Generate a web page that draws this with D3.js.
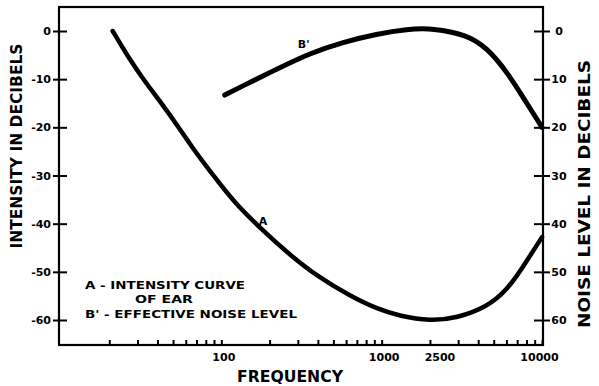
<!DOCTYPE html>
<html>
<head>
<meta charset="utf-8">
<script src="https://cdn.jsdelivr.net/npm/d3@7"></script>
<style>
  html, body { margin: 0; padding: 0; background: #fff; }
  svg { display: block; }
  text { font-family: "DejaVu Sans", sans-serif; font-weight: bold; fill: #000; }
</style>
</head>
<body>
<svg id="chart" width="599" height="386"></svg>
<script>
// ---- data ----
const freqA = [21, 26, 33, 43, 54, 68, 88, 118, 182, 268, 395, 634, 935, 1300, 2000, 2950, 4540, 6050, 7600, 10000];
const intensityA = [0, -5.2, -10.3, -15.3, -19.9, -24.9, -29.7, -35.3, -41.5, -46.5, -50.9, -55.0, -57.7, -59.2, -60.2, -59.6, -57.3, -53.8, -49.0, -42.8];

const freqB = [105, 136, 222, 357, 574, 935, 1440, 2090, 3400, 4540, 6050, 7600, 10000];
const noiseB = [13.3, 11.4, 7.9, 4.6, 2.3, 0.6, -0.4, -0.6, 0.8, 3.5, 8.5, 13.7, 20];

const leftTicks = [0, -10, -20, -30, -40, -50, -60];
const rightTicks = [0, 10, 20, 30, 40, 50, 60];
const xLabelTicks = [100, 1000, 2500, 10000];
const xMinorTicks = [20, 30, 40, 50, 60, 70, 80, 90, 100,
                     200, 300, 400, 500, 600, 700, 800, 900, 1000,
                     2000, 3000, 4000, 5000, 6000, 7000, 8000, 9000, 10000];

const legendLines = ["A - INTENSITY  CURVE", "OF  EAR", "B' - EFFECTIVE  NOISE  LEVEL"];

// ---- layout ----
const frame = { left: 59, right: 543, top: 7, bottom: 345 };
const svg = d3.select("#chart");

const x = d3.scaleLog().domain([10, 10000]).range([61, 542]);
const yL = d3.scaleLinear().domain([0, -60]).range([31, 320]);
const yR = d3.scaleLinear().domain([0, 60]).range([31, 320]);

// frame
svg.append("rect")
  .attr("x", frame.left).attr("y", frame.top)
  .attr("width", frame.right - frame.left).attr("height", frame.bottom - frame.top)
  .attr("fill", "none").attr("stroke", "#000").attr("stroke-width", 2.2);

// left axis
const gL = svg.append("g").attr("transform", `translate(${frame.left},0)`)
  .call(d3.axisLeft(yL).tickValues(leftTicks).tickSize(6).tickPadding(2).tickFormat(d => String(d)));
gL.select(".domain").remove();
gL.selectAll("line").attr("x1", 8).attr("stroke-width", 2);
gL.selectAll("text").attr("font-size", 11).attr("font-family", "DejaVu Sans").attr("font-weight", "bold");

// right axis
const gR = svg.append("g").attr("transform", `translate(${frame.right},0)`)
  .call(d3.axisRight(yR).tickValues(rightTicks).tickSize(7).tickPadding(9).tickFormat(d => String(d)));
gR.select(".domain").remove();
gR.selectAll("line").attr("x1", -9).attr("stroke-width", 2);
gR.selectAll("text").attr("font-size", 11).attr("text-anchor", "middle")
  .attr("font-family", "DejaVu Sans").attr("font-weight", "bold");

// bottom minor ticks
const gB = svg.append("g").attr("transform", `translate(0,${frame.bottom})`)
  .call(d3.axisBottom(x).tickValues(xMinorTicks).tickSize(-5).tickFormat(""));
gB.select(".domain").remove();
gB.selectAll("line").attr("stroke-width", 2);

// bottom labels
const gBL = svg.append("g").attr("transform", `translate(0,${frame.bottom})`)
  .call(d3.axisBottom(x).tickValues(xLabelTicks).tickSize(0).tickPadding(8).tickFormat(d => String(d)));
gBL.select(".domain").remove();
gBL.selectAll("text").attr("font-size", 11).attr("font-family", "DejaVu Sans").attr("font-weight", "bold")
  .attr("dx", d => d === 2500 ? -6 : (d === 10000 ? -3 : 2));

// curves
const lineA = d3.line().x((d, i) => x(freqA[i])).y((d, i) => yL(intensityA[i])).curve(d3.curveBasis);
svg.append("path").attr("d", lineA(freqA))
  .attr("fill", "none").attr("stroke", "#000").attr("stroke-width", 4.5)
  .attr("stroke-linecap", "round").attr("stroke-linejoin", "round");

const lineB = d3.line().x((d, i) => x(freqB[i])).y((d, i) => yR(noiseB[i])).curve(d3.curveBasis);
svg.append("path").attr("d", lineB(freqB))
  .attr("fill", "none").attr("stroke", "#000").attr("stroke-width", 5)
  .attr("stroke-linecap", "round").attr("stroke-linejoin", "round");

// curve labels
svg.append("text").attr("x", x(182)).attr("y", yL(-40.3)).attr("font-size", 11).attr("text-anchor", "middle").text("A");
svg.append("text").attr("x", x(300)).attr("y", yR(3.5)).attr("font-size", 11).text("B'");

// legend
svg.append("text").attr("x", 85).attr("y", 289).attr("font-size", 11)
  .attr("textLength", 160).attr("lengthAdjust", "spacingAndGlyphs").text(legendLines[0]);
svg.append("text").attr("x", 135).attr("y", 303).attr("font-size", 11)
  .attr("textLength", 58).attr("lengthAdjust", "spacingAndGlyphs").text(legendLines[1]);
svg.append("text").attr("x", 85).attr("y", 318).attr("font-size", 11)
  .attr("textLength", 212).attr("lengthAdjust", "spacingAndGlyphs").text(legendLines[2]);

// axis titles
svg.append("text").attr("x", 290).attr("y", 382).attr("font-size", 15).attr("text-anchor", "middle")
  .attr("textLength", 106).attr("lengthAdjust", "spacingAndGlyphs").text("FREQUENCY");
svg.append("text").attr("transform", "translate(22,146) rotate(-90)").attr("font-size", 15)
  .attr("text-anchor", "middle").attr("textLength", 205).attr("lengthAdjust", "spacingAndGlyphs")
  .text("INTENSITY  IN  DECIBELS");
svg.append("text").attr("transform", "translate(590,194) rotate(-90)").attr("font-size", 15)
  .attr("text-anchor", "middle").attr("textLength", 268).attr("lengthAdjust", "spacingAndGlyphs")
  .text("NOISE  LEVEL  IN  DECIBELS");
</script>
</body>
</html>
